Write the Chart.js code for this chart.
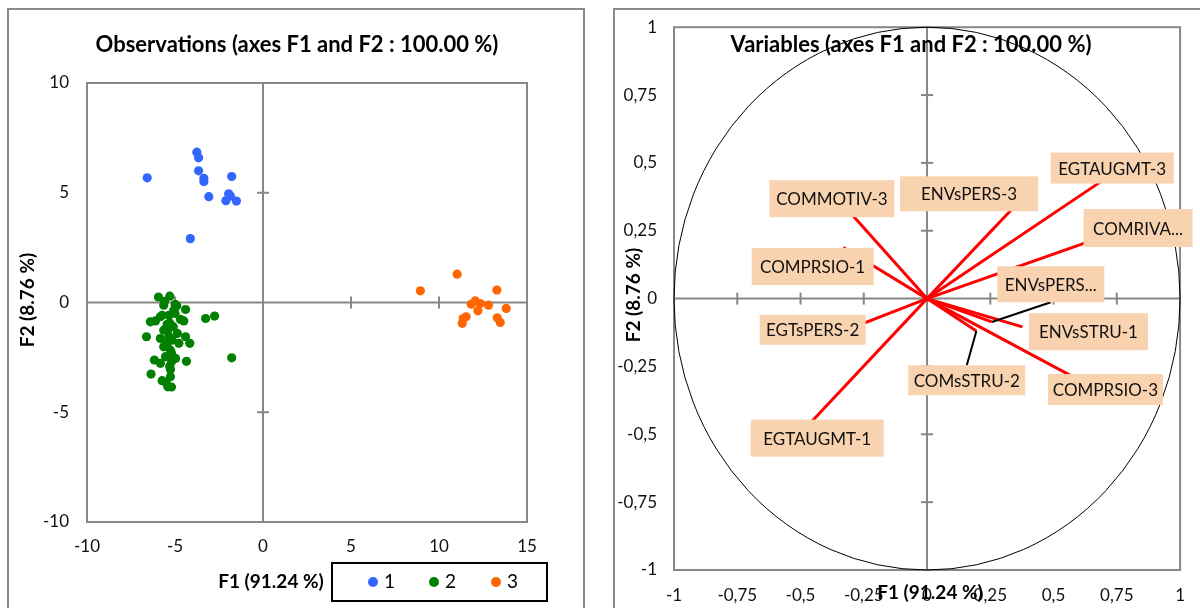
<!DOCTYPE html>
<html><head><meta charset="utf-8">
<script src="https://cdn.jsdelivr.net/npm/chart.js@4.4.1/dist/chart.umd.min.js"></script>
<style>
html,body{margin:0;padding:0;background:#fff;width:1200px;height:608px;overflow:hidden;}
#p1{position:absolute;left:7px;top:8px;width:574px;height:640px;border:2px solid #8a8a8a;}
#p2{position:absolute;left:613px;top:8px;width:640px;height:640px;border:2px solid #8a8a8a;}
#c1{position:absolute;left:0;top:0;}
#c2{position:absolute;left:600px;top:0;}
</style></head><body>
<div id="p1"></div><div id="p2"></div>
<canvas id="c1" width="600" height="608"></canvas>
<canvas id="c2" width="600" height="608"></canvas>
<script>
// ---------- DATA ----------
const classNames = ['1', '2', '3'];
const class1F1 = [-6.58, -3.76, -3.66, -3.66, -3.36, -3.36, -3.08, -1.78, -1.95, -2.11, -1.51, -4.13, -1.85];
const class1F2 = [5.68, 6.85, 6.59, 6.00, 5.66, 5.51, 4.82, 5.74, 4.95, 4.64, 4.62, 2.91, 4.85];
const class2F1 = [-5.94, -5.30, -5.64, -4.99, -4.40, -5.07, -5.73, -5.35, -4.69, -4.50, -6.40, -6.11, -5.30, -3.26, -2.75,
  -6.62, -5.83, -5.41, -4.87, -4.40, -4.16, -4.78, -5.64, -5.26, -5.54, -4.97, -6.17, -5.83, -4.35, -5.26,
  -6.36, -5.26, -5.73, -5.41, -1.78, -5.35, -5.44, -5.16, -5.64, -5.83, -5.50, -5.20, -5.30, -5.20, -5.10,
  -4.90, -5.60, -5.00, -5.45, -5.20];
const class2F2 = [0.25, 0.29, -0.12, -0.08, -0.32, -0.35, -0.58, -0.58, -0.77, -0.84, -0.88, -0.84, -0.93, -0.73, -0.62,
  -1.56, -1.64, -1.26, -1.41, -1.56, -1.86, -1.86, -2.02, -2.17, -2.47, -2.55, -2.62, -2.77, -2.68, -3.05,
  -3.26, -3.38, -3.56, -3.84, -2.52, -1.56, -1.86, -1.71, -1.26, -0.65, -3.65, -3.85, -2.90, -2.30, -1.10,
  -0.15, 0.05, -0.50, -1.00, -2.70];
const class3F1 = [11.03, 8.94, 13.29, 12.06, 11.83, 12.34, 12.81, 12.21, 13.82, 11.54, 11.37, 11.32, 13.31, 13.48];
const class3F2 = [1.29, 0.53, 0.57, 0.07, -0.08, -0.05, -0.12, -0.38, -0.27, -0.65, -0.73, -0.95, -0.70, -0.91];

const variableNames = ['COMMOTIV-3', 'ENVsPERS-3', 'EGTAUGMT-3', 'COMRIVA...', 'ENVsPERS...', 'ENVsSTRU-1',
  'COMsSTRU-2', 'COMPRSIO-3', 'COMPRSIO-1', 'EGTsPERS-2', 'EGTAUGMT-1'];
const loadF1 = [-0.319, 0.339, 0.706, 0.648, 0.256, 0.377, 0.195, 0.581, -0.331, -0.272, -0.464];
const loadF2 = [0.333, 0.333, 0.443, 0.213, -0.086, -0.104, -0.119, -0.290, 0.188, -0.099, -0.461];

const obsXTicks = [-10, -5, 0, 5, 10, 15];
const obsYTicks = [-10, -5, 0, 5, 10];
const varTicks = [-1, -0.75, -0.5, -0.25, 0, 0.25, 0.5, 0.75, 1];

// ---------- LAYOUT (label placement, in axis units) ----------
const labelCX = [-0.376, 0.166, 0.732, 0.834, 0.489, 0.638, 0.157, 0.705, -0.452, -0.452, -0.434];
const labelCY = [0.368, 0.386, 0.481, 0.260, 0.053, -0.122, -0.301, -0.335, 0.118, -0.115, -0.514];
const labelW = [125, 138, 123, 109, 107, 119, 117, 115, 122, 106, 133];
const labelH = [37, 35, 31, 38, 36, 37, 30, 31, 37, 30, 37];
const labelLeader = [false, false, false, false, true, false, true, false, false, false, false];

const FONT = 'Lato, "Open Sans", "Liberation Sans", sans-serif';
const GRAY = '#878787';
const BLUE = '#3366FF', GREEN = '#007F00', ORANGE = '#FF6600';

function seg(ctx, x1, y1, x2, y2) { ctx.beginPath(); ctx.moveTo(x1, y1); ctx.lineTo(x2, y2); ctx.stroke(); }
function pts(xs, ys) { return xs.map((x, i) => ({ x: x, y: ys[i] })); }

// ---------- LEFT CHART ----------
const obsDecor = {
  id: 'obsDecor',
  beforeDatasetsDraw(chart) {
    const { ctx, chartArea: a, scales: { x, y } } = chart;
    const x0 = x.getPixelForValue(0), y0 = y.getPixelForValue(0);
    ctx.save();
    ctx.strokeStyle = GRAY; ctx.lineWidth = 2;
    seg(ctx, a.left, y0, a.right, y0);
    seg(ctx, x0, a.top, x0, a.bottom);
    obsXTicks.forEach(v => { if (v === 0 || v === obsXTicks[0] || v === obsXTicks[obsXTicks.length - 1]) return;
      const px = x.getPixelForValue(v); seg(ctx, px, y0 - 6, px, y0 + 6); });
    obsYTicks.forEach(v => { if (v === 0 || v === obsYTicks[0] || v === obsYTicks[obsYTicks.length - 1]) return;
      const py = y.getPixelForValue(v); seg(ctx, x0 - 6, py, x0 + 6, py); });
    ctx.strokeRect(a.left, a.top, a.right - a.left, a.bottom - a.top);
    ctx.restore();
  },
  afterDraw(chart) {
    const { ctx } = chart;
    ctx.save();
    ctx.fillStyle = '#000';
    ctx.textAlign = 'center'; ctx.textBaseline = 'middle';
    ctx.font = 'bold 22px ' + FONT;
    ctx.fillText('Observations (axes F1 and F2 : 100.00 %)', 297, 45);
    ctx.font = 'bold 19px ' + FONT;
    ctx.fillText('F1 (91.24 %)', 271, 582);
    ctx.save(); ctx.translate(28, 300); ctx.rotate(-Math.PI / 2);
    ctx.fillText('F2 (8.76 %)', 0, 0); ctx.restore();
    // legend
    ctx.strokeStyle = '#000'; ctx.lineWidth = 2;
    ctx.strokeRect(332, 563, 215, 38);
    const cols = [BLUE, GREEN, ORANGE], lx = [373, 434, 496];
    ctx.font = '19px ' + FONT; ctx.textAlign = 'left';
    classNames.forEach((n, i) => {
      ctx.fillStyle = cols[i]; ctx.beginPath(); ctx.arc(lx[i], 582, 5, 0, 2 * Math.PI); ctx.fill();
      ctx.fillStyle = '#000'; ctx.fillText(n, lx[i] + 11, 582);
    });
    ctx.restore();
  }
};

new Chart(document.getElementById('c1'), {
  type: 'scatter',
  data: { datasets: [
    { label: classNames[0], data: pts(class1F1, class1F2), backgroundColor: BLUE, borderColor: BLUE, pointRadius: 4.6, borderWidth: 0 },
    { label: classNames[1], data: pts(class2F1, class2F2), backgroundColor: GREEN, borderColor: GREEN, pointRadius: 4.6, borderWidth: 0 },
    { label: classNames[2], data: pts(class3F1, class3F2), backgroundColor: ORANGE, borderColor: ORANGE, pointRadius: 4.6, borderWidth: 0 }
  ]},
  options: {
    responsive: false, animation: false, events: [],
    layout: { padding: { left: 0, top: 83, right: 73, bottom: 0 } },
    plugins: { legend: { display: false }, title: { display: false }, tooltip: { enabled: false } },
    scales: {
      x: { type: 'linear', min: -10, max: 15,
        grid: { display: false, drawTicks: false }, border: { display: false },
        ticks: { padding: 14, color: '#111', font: { family: FONT, size: 17 }, maxRotation: 0 },
        afterBuildTicks: s => { s.ticks = obsXTicks.map(v => ({ value: v })); },
        afterFit: s => { s.height = 86; } },
      y: { type: 'linear', min: -10, max: 10,
        grid: { display: false, drawTicks: false }, border: { display: false },
        ticks: { padding: 18, color: '#111', font: { family: FONT, size: 17 } },
        afterBuildTicks: s => { s.ticks = obsYTicks.map(v => ({ value: v })); },
        afterFit: s => { s.width = 87; } }
    }
  },
  plugins: [obsDecor]
});

// ---------- RIGHT CHART ----------
const varDecor = {
  id: 'varDecor',
  beforeDatasetsDraw(chart) {
    const { ctx, chartArea: a, scales: { x, y } } = chart;
    const x0 = x.getPixelForValue(0), y0 = y.getPixelForValue(0);
    ctx.save();
    ctx.strokeStyle = GRAY; ctx.lineWidth = 2;
    seg(ctx, a.left, y0, a.right, y0);
    seg(ctx, x0, a.top, x0, a.bottom);
    varTicks.forEach(v => { if (v === 0 || Math.abs(v) === 1) return;
      const px = x.getPixelForValue(v); seg(ctx, px, y0 - 6, px, y0 + 6);
      const py = y.getPixelForValue(v); seg(ctx, x0 - 6, py, x0 + 6, py); });
    ctx.strokeRect(a.left, a.top, a.right - a.left, a.bottom - a.top);
    ctx.strokeStyle = '#000'; ctx.lineWidth = 1;
    ctx.beginPath();
    ctx.ellipse(x0, y0, x.getPixelForValue(1) - x0, y0 - y.getPixelForValue(1), 0, 0, 2 * Math.PI);
    ctx.stroke();
    ctx.restore();
  },
  afterDatasetsDraw(chart) {
    const { ctx, scales: { x, y } } = chart;
    ctx.save();
    variableNames.forEach((n, i) => {
      const cx = x.getPixelForValue(labelCX[i]), cy = y.getPixelForValue(labelCY[i]);
      const w = labelW[i], h = labelH[i];
      if (labelLeader[i]) {
        const px = x.getPixelForValue(loadF1[i]), py = y.getPixelForValue(loadF2[i]);
        const ey = py > cy ? cy + h / 2 : cy - h / 2;
        ctx.strokeStyle = '#000'; ctx.lineWidth = 2; seg(ctx, px, py, cx, ey);
      }
      ctx.fillStyle = '#F9D3B0';
      ctx.fillRect(cx - w / 2, cy - h / 2, w, h);
      ctx.fillStyle = '#111'; ctx.font = '17px ' + FONT;
      ctx.textAlign = 'center'; ctx.textBaseline = 'middle';
      ctx.fillText(n, cx, cy + 1);
    });
    ctx.restore();
  },
  afterDraw(chart) {
    const { ctx } = chart;
    ctx.save();
    ctx.fillStyle = '#000'; ctx.textAlign = 'center'; ctx.textBaseline = 'middle';
    ctx.font = 'bold 22px ' + FONT;
    ctx.fillText('Variables (axes F1 and F2 : 100.00 %)', 311, 45);
    ctx.font = 'bold 19px ' + FONT;
    ctx.fillText('F1 (91.24 %)', 330, 593);
    ctx.save(); ctx.translate(34, 295); ctx.rotate(-Math.PI / 2);
    ctx.fillText('F2 (8.76 %)', 0, 0); ctx.restore();
    ctx.restore();
  }
};

new Chart(document.getElementById('c2'), {
  type: 'scatter',
  data: { datasets: variableNames.map((n, i) => ({
    label: n, data: [{ x: 0, y: 0 }, { x: loadF1[i], y: loadF2[i] }],
    showLine: true, borderColor: '#FF0000', backgroundColor: '#FF0000', borderWidth: 3, pointRadius: 0
  })) },
  options: {
    responsive: false, animation: false, events: [],
    layout: { padding: { left: 0, top: 21, right: 15, bottom: 0 } },
    plugins: { legend: { display: false }, title: { display: false }, tooltip: { enabled: false } },
    scales: {
      x: { type: 'linear', min: -1, max: 1,
        grid: { display: false, drawTicks: false }, border: { display: false },
        ticks: { padding: 15, color: '#111', font: { family: FONT, size: 17 }, maxRotation: 0, autoSkip: false,
          callback: v => String(v).replace('.', ',') },
        afterBuildTicks: s => { s.ticks = varTicks.map(v => ({ value: v })); },
        afterFit: s => { s.height = 38; } },
      y: { type: 'linear', min: -1, max: 1,
        grid: { display: false, drawTicks: false }, border: { display: false },
        ticks: { padding: 17, color: '#111', font: { family: FONT, size: 17 }, autoSkip: false,
          callback: v => String(v).replace('.', ',') },
        afterBuildTicks: s => { s.ticks = varTicks.map(v => ({ value: v })); },
        afterFit: s => { s.width = 74; } }
    }
  },
  plugins: [varDecor]
});
</script>
</body></html>
